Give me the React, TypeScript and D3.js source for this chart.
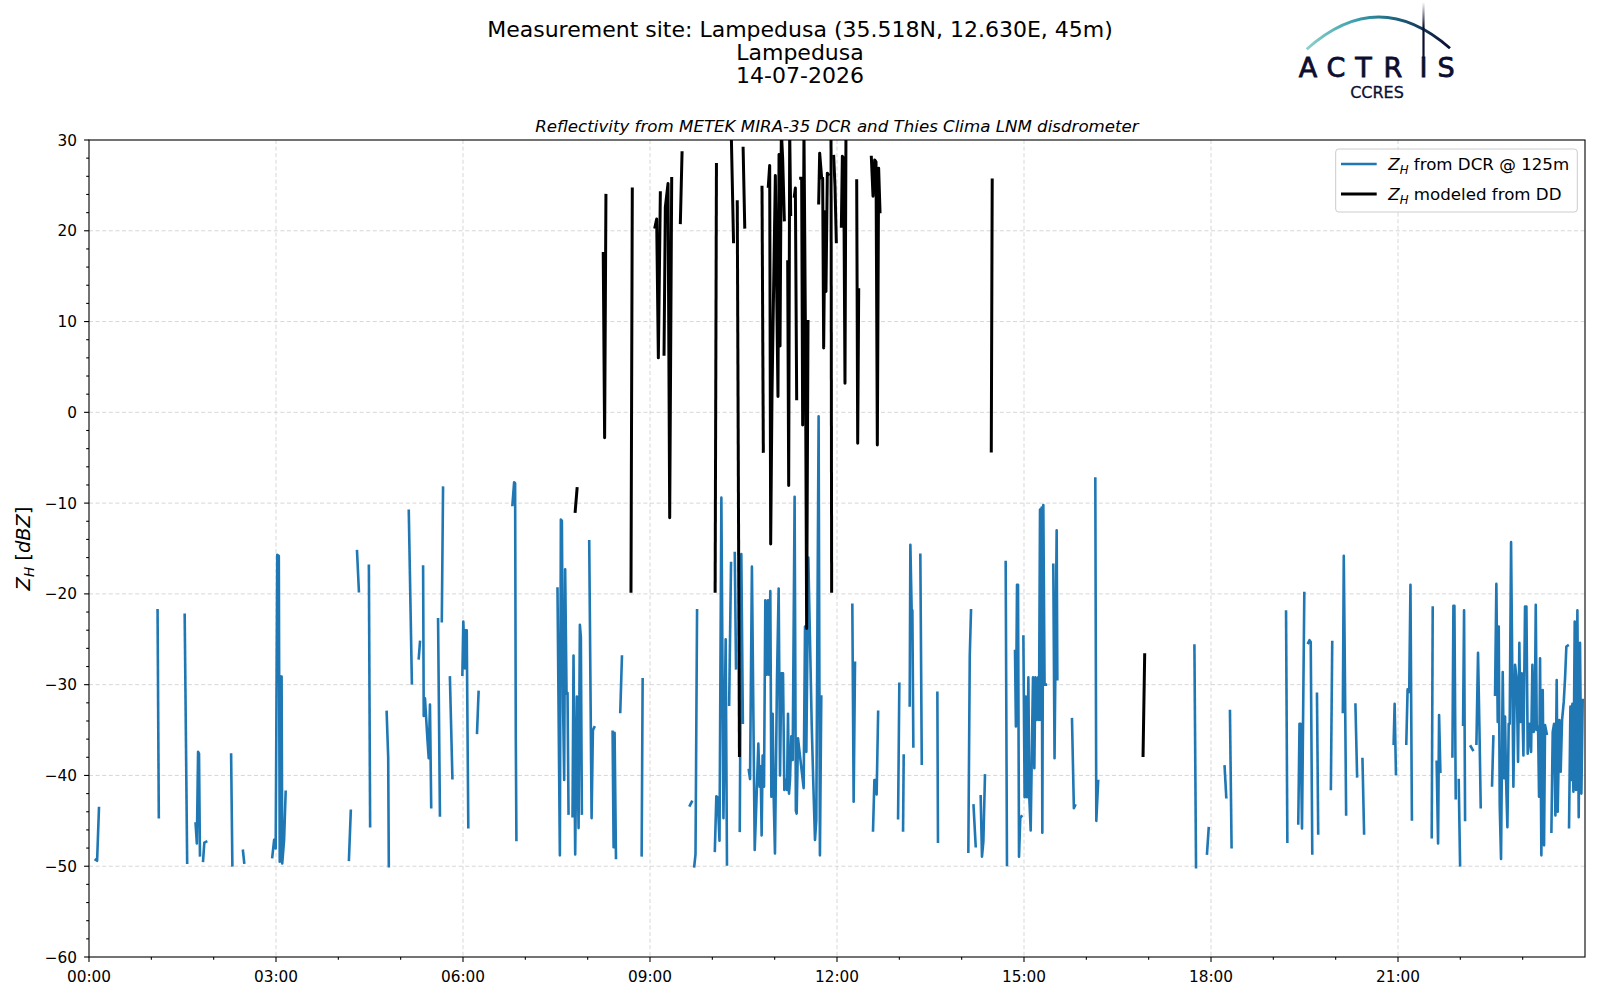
import React from "react";
import * as d3 from "d3";

// Z_H [dBZ] time series, hours since 00:00 UTC; each run is a gap-free piece
const dcrRuns: [number, number][][] = [
  [[0.107, -49.3], [0.13, -49.4], [0.16, -43.6]],
  [[1.1, -21.8], [1.12, -44.6]],
  [[1.535, -22.3], [1.575, -49.6]],
  [[1.71, -45.3], [1.73, -47.5], [1.75, -37.4], [1.765, -37.6], [1.78, -48.8]],
  [[1.83, -49.4], [1.85, -47.4], [1.88, -47.3]],
  [[2.28, -37.7], [2.3, -49.9]],
  [[2.47, -48.3], [2.49, -49.6]],
  [[2.94, -49.0], [2.97, -47.1], [2.995, -48.05], [3.02, -15.7], [3.045, -15.8], [3.06, -49.5], [3.075, -29.1], [3.09, -29.1], [3.1, -49.7], [3.13, -47.1], [3.155, -41.8]],
  [[4.17, -49.3], [4.2, -43.9]],
  [[4.3, -15.3], [4.33, -19.7]],
  [[4.49, -16.9], [4.51, -45.6]],
  [[4.775, -33.0], [4.8, -38.0], [4.81, -50.0]],
  [[5.13, -10.85], [5.18, -29.85]],
  [[5.29, -27.1], [5.31, -25.3]],
  [[5.36, -17.0], [5.37, -33.45], [5.39, -31.5], [5.43, -36.1], [5.45, -38.1], [5.47, -32.2], [5.49, -43.5]],
  [[5.6, -22.8], [5.63, -44.4]],
  [[5.66, -23.0], [5.68, -8.3]],
  [[5.79, -29.2], [5.83, -40.3]],
  [[5.99, -28.9], [6.005, -23.05], [6.03, -28.2], [6.04, -24.0], [6.06, -24.0], [6.085, -45.7]],
  [[6.225, -35.3], [6.25, -30.8]],
  [[6.793, -10.2], [6.82, -7.7], [6.836, -7.8], [6.847, -35.8], [6.857, -47.1]],
  [[7.516, -19.4], [7.554, -48.8], [7.57, -11.8], [7.586, -11.95], [7.607, -32.9], [7.623, -40.5], [7.639, -17.3], [7.661, -31.0], [7.677, -30.9], [7.693, -44.2]],
  [[7.757, -44.5], [7.773, -26.8], [7.8, -48.7], [7.827, -31.3], [7.854, -45.8], [7.875, -23.4], [7.891, -24.8], [7.907, -44.2]],
  [[8.025, -14.2], [8.063, -44.7], [8.084, -35.0], [8.106, -34.7]],
  [[8.4, -35.2], [8.416, -47.9], [8.432, -35.3], [8.454, -49.1]],
  [[8.523, -33.0], [8.55, -26.9]],
  [[8.866, -48.8], [8.882, -29.4]],
  [[9.64, -43.3], [9.67, -42.9]],
  [[9.71, -50.0], [9.73, -48.7], [9.755, -21.8]],
  [[10.04, -48.3], [10.064, -42.3], [10.085, -42.4], [10.115, -47.2], [10.145, -9.4], [10.178, -44.7], [10.214, -25.0], [10.235, -49.8]],
  [[10.27, -32.2], [10.3, -16.6]],
  [[10.36, -15.5], [10.38, -28.2]],
  [[10.44, -46.1], [10.465, -15.6], [10.49, -34.2]],
  [[10.585, -39.4], [10.605, -40.4], [10.635, -17.0], [10.68, -48.2], [10.706, -43.1], [10.738, -36.5], [10.759, -41.25], [10.775, -39.0], [10.791, -46.6], [10.807, -37.8], [10.829, -41.25], [10.85, -20.7], [10.872, -28.9], [10.893, -20.7], [10.909, -28.9], [10.93, -19.7], [10.947, -42.35], [10.968, -33.2], [10.984, -42.35], [11.005, -48.6], [11.037, -29.5], [11.064, -19.4], [11.086, -40.0], [11.107, -28.75], [11.134, -28.75], [11.155, -41.6], [11.176, -40.5], [11.198, -41.6], [11.214, -33.2], [11.23, -42.0], [11.246, -40.5], [11.267, -35.7], [11.289, -38.3], [11.32, -9.3], [11.34, -43.9], [11.353, -44.2], [11.374, -35.9], [11.465, -41.4], [11.487, -23.6], [11.508, -37.4], [11.54, -16.0], [11.594, -34.3], [11.62, -40.9], [11.647, -47.1], [11.668, -44.9], [11.705, -0.45], [11.726, -48.8], [11.748, -31.3]],
  [[12.246, -21.2], [12.267, -42.9], [12.289, -27.6]],
  [[12.578, -46.05], [12.6, -40.5], [12.62, -40.5], [12.636, -42.1], [12.66, -33.0]],
  [[12.98, -44.7], [13.0, -29.9]],
  [[13.06, -46.05], [13.07, -37.8]],
  [[13.166, -32.3], [13.177, -14.6], [13.198, -21.8], [13.209, -21.8], [13.225, -36.8]],
  [[13.337, -15.7], [13.36, -38.7]],
  [[13.61, -30.9], [13.62, -47.3]],
  [[14.107, -48.4], [14.13, -26.8], [14.15, -21.8]],
  [[14.19, -43.3], [14.225, -47.8]],
  [[14.305, -42.3], [14.326, -48.95], [14.348, -47.3], [14.374, -40.0]],
  [[14.706, -16.5], [14.727, -49.85]],
  [[14.856, -26.3], [14.87, -34.6], [14.888, -19.0], [14.904, -19.0], [14.92, -48.95], [14.94, -44.7], [14.96, -44.5]],
  [[14.99, -24.7], [15.01, -42.4], [15.027, -31.3], [15.048, -42.4], [15.07, -29.2], [15.086, -42.6], [15.107, -46.05], [15.144, -29.2], [15.166, -39.2], [15.182, -29.2], [15.203, -33.9], [15.225, -29.2], [15.24, -33.9], [15.257, -10.7], [15.273, -33.9], [15.283, -10.5], [15.294, -46.3], [15.31, -10.2], [15.33, -30.0], [15.35, -30.0]],
  [[15.47, -16.8], [15.49, -38.1], [15.524, -13.0], [15.535, -29.4]],
  [[15.77, -33.8], [15.8, -43.6], [15.82, -43.3]],
  [[16.144, -7.3], [16.16, -45.0], [16.19, -40.6]],
  [[17.734, -25.7], [17.76, -50.1]],
  [[17.936, -48.6], [17.963, -45.8]],
  [[18.218, -39.0], [18.245, -42.4]],
  [[18.304, -32.9], [18.33, -47.9]],
  [[19.204, -21.95], [19.225, -47.3]],
  [[19.4, -45.3], [19.42, -34.3], [19.437, -34.3], [19.46, -45.85], [19.497, -19.9]],
  [[19.56, -25.4], [19.58, -25.1], [19.6, -25.3], [19.625, -48.6]],
  [[19.7, -31.0], [19.72, -46.4]],
  [[19.923, -41.5], [19.945, -25.3]],
  [[20.115, -33.0], [20.13, -15.8], [20.147, -28.0], [20.168, -44.3]],
  [[20.317, -32.2], [20.344, -40.1]],
  [[20.43, -38.2], [20.456, -46.4]],
  [[20.93, -36.5], [20.946, -32.1], [20.967, -39.85]],
  [[21.133, -36.5], [21.154, -30.5], [21.18, -30.8], [21.2, -19.0], [21.223, -44.85]],
  [[21.541, -46.8], [21.557, -21.5]],
  [[21.62, -38.5], [21.643, -47.5], [21.659, -33.35], [21.68, -39.6]],
  [[21.873, -37.9], [21.889, -21.3], [21.905, -21.3], [21.926, -42.5]],
  [[21.974, -40.5], [21.996, -49.9]],
  [[22.044, -34.4], [22.06, -21.8], [22.076, -44.9]],
  [[22.167, -36.8], [22.2, -37.2]],
  [[22.258, -36.5], [22.284, -26.5], [22.306, -34.6], [22.327, -43.5]],
  [[22.509, -41.1], [22.53, -35.7]],
  [[22.557, -31.1], [22.578, -18.9], [22.6, -34.1], [22.616, -23.6], [22.632, -43.3], [22.653, -49.2], [22.68, -28.6], [22.701, -40.3], [22.717, -33.5], [22.734, -40.5], [22.755, -45.7], [22.776, -34.3], [22.792, -34.3], [22.814, -14.3], [22.851, -41.25], [22.878, -27.8], [22.905, -29.5], [22.926, -38.5], [22.947, -25.4], [22.963, -34.1], [22.985, -28.75], [23.012, -37.8], [23.038, -21.4], [23.06, -21.4], [23.081, -37.6], [23.108, -34.3], [23.135, -37.4], [23.156, -27.8], [23.177, -35.2], [23.193, -34.8], [23.21, -21.2], [23.226, -35.0], [23.247, -34.6], [23.263, -42.35], [23.279, -27.1], [23.3, -48.8], [23.322, -30.6], [23.343, -47.7], [23.359, -34.45], [23.386, -35.4]],
  [[23.461, -46.2], [23.482, -35.2], [23.504, -34.3], [23.525, -44.4], [23.546, -29.5], [23.562, -44.0], [23.589, -33.9], [23.61, -39.6], [23.632, -33.9], [23.659, -31.9], [23.68, -29.3], [23.701, -25.8], [23.723, -25.7]],
  [[23.744, -45.7], [23.766, -32.4], [23.782, -40.5], [23.798, -32.1], [23.814, -41.8], [23.835, -23.05], [23.856, -41.6], [23.878, -21.8], [23.899, -44.6], [23.92, -25.4], [23.942, -42.0], [23.963, -31.7]],
];

const ddRuns: [number, number][][] = [
  [[7.8, -10.9], [7.83, -8.4]],
  [[8.25, 17.5], [8.272, -2.8], [8.293, 23.9]],
  [[8.695, -19.7], [8.716, 24.6]],
  [[9.08, 20.4], [9.107, 21.3], [9.134, 6.0], [9.166, 24.2]],
  [[9.225, 6.4], [9.246, 22.6], [9.289, 25.2], [9.316, -11.6], [9.348, 25.75]],
  [[9.487, 20.9], [9.514, 28.6]],
  [[10.045, -19.7], [10.066, 27.3]],
  [[10.3, 32], [10.34, 18.8]],
  [[10.4, 23.2], [10.435, -37.8]],
  [[10.494, 29.1], [10.52, 20.4]],
  [[10.797, 24.8], [10.818, -4.3]],
  [[10.898, 24.9], [10.92, 27.2], [10.936, -14.5], [10.957, 1.9], [11.011, 26.1], [11.053, 1.75], [11.07, 28.4], [11.086, 7.3], [11.107, 31], [11.128, 28.0], [11.155, 21.2]],
  [[11.209, 16.6], [11.225, -8.05], [11.241, 31], [11.257, 21.8]],
  [[11.316, 23.8], [11.332, 24.7], [11.353, 1.5]],
  [[11.417, 25.8], [11.433, 25.8], [11.449, -1.4], [11.47, 31], [11.492, 10.2], [11.513, -23.8], [11.535, 10.0]],
  [[11.706, 23.05], [11.722, 28.55], [11.754, 25.8], [11.77, 25.8], [11.786, 7.1], [11.807, 22.1], [11.823, 13.3], [11.845, 26.35], [11.861, 26.2]],
  [[11.904, 30.5], [11.914, -19.7]],
  [[11.947, 28.2], [11.968, 24.9], [11.989, 18.8]],
  [[12.07, 20.5], [12.086, 28.2], [12.107, 28.0], [12.128, 3.2], [12.144, 31]],
  [[12.316, 25.5], [12.332, -3.4], [12.348, 13.5]],
  [[12.551, 28.1], [12.578, 23.8], [12.604, 27.8], [12.626, 27.6], [12.647, -3.6], [12.668, 26.9], [12.69, 22.1]],
  [[14.475, -4.25], [14.49, 25.6]],
  [[16.91, -37.8], [16.936, -26.7]],
];

const hourTicks = [0, 3, 6, 9, 12, 15, 18, 21];
const hourMinor = [1, 2, 4, 5, 7, 8, 10, 11, 13, 14, 16, 17, 19, 20, 22, 23];
const zTicks = [-60, -50, -40, -30, -20, -10, 0, 10, 20, 30];
const titleLines = ["Measurement site: Lampedusa (35.518N, 12.630E, 45m)", "Lampedusa", "14-07-2026"];
const subtitle = "Reflectivity from METEK MIRA-35 DCR and Thies Clima LNM disdrometer";
const logoLetters = ["A", "C", "T", "R", "I", "S"];
const logoLetterX = [1308, 1336, 1363.5, 1393, 1423.5, 1446];

const W = 1600;
const H = 1000;
const box = { left: 89, right: 1585, top: 140, bottom: 957 };
const font = "DejaVu Sans";
const blue = "#1f77b4";
const navy = "#0d0d30";

const fmtHour = (h: number) => String(h).padStart(2, "0") + ":00";
const fmtZ = (v: number) => (v < 0 ? "\u2212" + Math.abs(v) : String(v));

export default function App() {
  const x = d3.scaleLinear().domain([0, 24]).range([box.left, box.right]);
  const y = d3.scaleLinear().domain([-60, 30]).range([box.bottom, box.top]);
  const line = d3
    .line<[number, number]>()
    .x((d) => x(d[0]))
    .y((d) => y(d[1]));
  const zMinor = d3.range(-60, 31, 2).filter((v) => v % 10 !== 0);

  return (
    <svg
      width={W}
      height={H}
      style={{ position: "absolute", left: 0, top: 0, background: "#fff" }}
      fontFamily={font}
    >
      <defs>
        <clipPath id="plotClip">
          <rect x={box.left} y={box.top} width={box.right - box.left} height={box.bottom - box.top} />
        </clipPath>
        <linearGradient id="arcGrad" x1="1306" y1="0" x2="1450" y2="0" gradientUnits="userSpaceOnUse">
          <stop offset="0" stopColor="#8fd0cc" />
          <stop offset="0.35" stopColor="#3a9fad" />
          <stop offset="0.65" stopColor="#1b5d78" />
          <stop offset="1" stopColor={navy} />
        </linearGradient>
        <linearGradient id="stemGrad" x1="0" y1="2" x2="0" y2="58" gradientUnits="userSpaceOnUse">
          <stop offset="0" stopColor={navy} stopOpacity="0" />
          <stop offset="0.45" stopColor={navy} stopOpacity="1" />
          <stop offset="1" stopColor={navy} />
        </linearGradient>
      </defs>

      {/* titles */}
      {titleLines.map((t, i) => (
        <text key={t} x={800} y={36.5 + i * 23} textAnchor="middle" fontSize={22} fill="#000">
          {t}
        </text>
      ))}
      <text x={(box.left + box.right) / 2} y={131.5} textAnchor="middle" fontSize={16.67} fontStyle="italic">
        {subtitle}
      </text>

      {/* logo */}
      <path d="M1306.7,49.3 Q1378,-14.7 1450,48.3" fill="none" stroke="url(#arcGrad)" strokeWidth={2.8} />
      <line x1={1423.5} x2={1423.5} y1={2} y2={58} stroke="url(#stemGrad)" strokeWidth={2.2} />
      <g fill={navy} stroke={navy} strokeWidth={0.8}>
        {logoLetters.map((ch, i) => (
          <text key={ch} x={logoLetterX[i]} y={77} textAnchor="middle" fontSize={27}>
            {ch}
          </text>
        ))}
      </g>
      <text x={1377} y={98} textAnchor="middle" fontSize={16} fill={navy} stroke={navy} strokeWidth={0.3}>
        CCRES
      </text>

      {/* grid */}
      <g stroke="#d2d2d2" strokeWidth={0.9} strokeDasharray="4,2.6">
        {hourTicks.slice(1).map((h) => (
          <line key={"gx" + h} x1={x(h)} x2={x(h)} y1={box.top} y2={box.bottom} />
        ))}
        {zTicks.slice(1, -1).map((v) => (
          <line key={"gy" + v} x1={box.left} x2={box.right} y1={y(v)} y2={y(v)} />
        ))}
      </g>

      {/* series */}
      <g clipPath="url(#plotClip)" fill="none" strokeLinejoin="round" strokeLinecap="square">
        {dcrRuns.map((r, i) => (
          <path key={"b" + i} d={line(r) || ""} stroke={blue} strokeWidth={2.6} />
        ))}
        {ddRuns.map((r, i) => (
          <path key={"k" + i} d={line(r) || ""} stroke="#000" strokeWidth={3} />
        ))}
      </g>

      {/* frame */}
      <rect
        x={box.left}
        y={box.top}
        width={box.right - box.left}
        height={box.bottom - box.top}
        fill="none"
        stroke="#000"
        strokeWidth={1.1}
      />

      {/* ticks */}
      <g stroke="#000" strokeWidth={1.1}>
        {hourTicks.map((h) => (
          <line key={"tx" + h} x1={x(h)} x2={x(h)} y1={box.bottom} y2={box.bottom + 4.9} />
        ))}
        {hourMinor.map((h) => (
          <line key={"mx" + h} x1={x(h)} x2={x(h)} y1={box.bottom} y2={box.bottom + 2.8} />
        ))}
        {zTicks.map((v) => (
          <line key={"ty" + v} x1={box.left - 4.9} x2={box.left} y1={y(v)} y2={y(v)} />
        ))}
        {zMinor.map((v) => (
          <line key={"my" + v} x1={box.left - 2.8} x2={box.left} y1={y(v)} y2={y(v)} />
        ))}
      </g>
      {hourTicks.map((h) => (
        <text key={"lx" + h} x={x(h)} y={981.5} textAnchor="middle" fontSize={15.3}>
          {fmtHour(h)}
        </text>
      ))}
      {zTicks.map((v) => (
        <text key={"ly" + v} x={77} y={y(v)} dy="0.36em" textAnchor="end" fontSize={15.3}>
          {fmtZ(v)}
        </text>
      ))}
      <text transform={`translate(29.5,${(box.top + box.bottom) / 2}) rotate(-90)`} textAnchor="middle" fontSize={19.4}>
        <tspan fontStyle="italic">Z</tspan>
        <tspan fontStyle="italic" fontSize={13.6} dy={4}>
          H
        </tspan>
        <tspan dy={-4}> [</tspan>
        <tspan fontStyle="italic">dBZ</tspan>
        <tspan>]</tspan>
      </text>

      {/* legend */}
      <rect x={1335.7} y={149} width={241.6} height={63} rx={3} fill="#fff" fillOpacity={0.8} stroke="#cccccc" strokeWidth={1} />
      {[
        { c: blue, w: 2.6, label: " from DCR @ 125m" },
        { c: "#000", w: 3, label: " modeled from DD" },
      ].map((e, i) => (
        <g key={"lg" + i}>
          <line x1={1341} x2={1376.7} y1={164 + i * 30} y2={164 + i * 30} stroke={e.c} strokeWidth={e.w} />
          <text x={1388.3} y={170 + i * 30} fontSize={16.67}>
            <tspan fontStyle="italic">Z</tspan>
            <tspan fontStyle="italic" fontSize={11.7} dy={3.5}>
              H
            </tspan>
            <tspan dy={-3.5}>{e.label}</tspan>
          </text>
        </g>
      ))}
    </svg>
  );
}
